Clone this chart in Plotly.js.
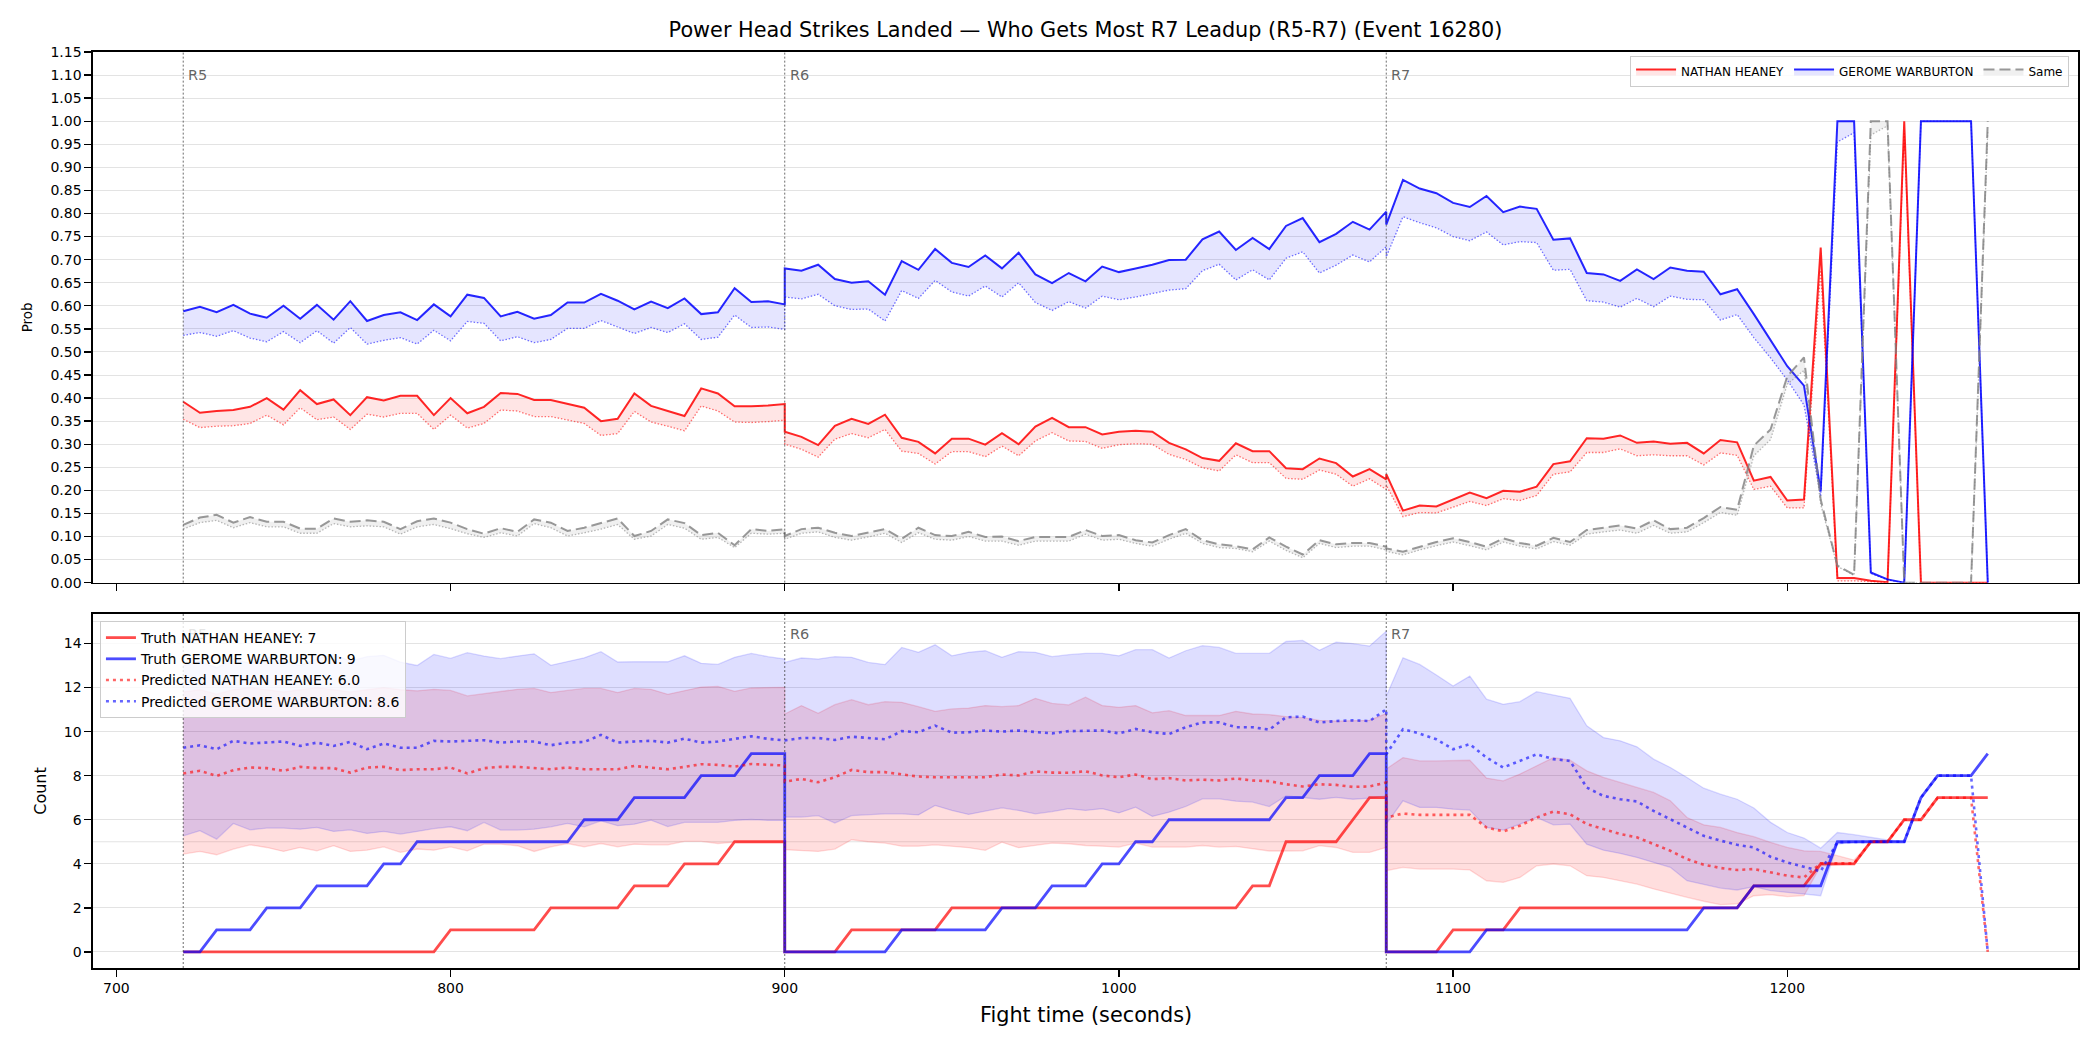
<!DOCTYPE html>
<html>
<head>
<meta charset="utf-8">
<script src="https://cdn.plot.ly/plotly-3.0.1.min.js"></script>
<style>html,body{margin:0;padding:0;background:#fff;}#chart{width:2100px;height:1050px;}</style>
</head>
<body>
<div id="chart"></div>
<script>
// ---------- time axis (seconds), one array per round ----------
const t5 = [720,725,730,735,740,745,750,755,760,765,770,775,780,785,790,795,800,805,810,815,820,825,830,835,840,845,850,855,860,865,870,875,880,885,890,895,900];
const t6 = [900,905,910,915,920,925,930,935,940,945,950,955,960,965,970,975,980,985,990,995,1000,1005,1010,1015,1020,1025,1030,1035,1040,1045,1050,1055,1060,1065,1070,1075,1080];
const t7 = [1080,1085,1090,1095,1100,1105,1110,1115,1120,1125,1130,1135,1140,1145,1150,1155,1160,1165,1170,1175,1180,1185,1190,1195,1200,1205,1210,1215,1220,1225,1230,1235,1240,1245,1250,1255,1260];

const fighterA = "NATHAN HEANEY";
const fighterB = "GEROME WARBURTON";
const roundNames = ["R5", "R6", "R7"];
const roundStarts = [720, 900, 1080];
const xTicks = [700, 800, 900, 1000, 1100, 1200];
const probTicks = [0,0.05,0.1,0.15,0.2,0.25,0.3,0.35,0.4,0.45,0.5,0.55,0.6,0.65,0.7,0.75,0.8,0.85,0.9,0.95,1,1.05,1.1,1.15];
const countTicks = [0,2,4,6,8,10,12,14];
const truthFinalA = 7, truthFinalB = 9, predFinalA = 6.0, predFinalB = 8.6;

// ---------- top panel: probabilities ----------
const heaneyProbR5 = [0.392,0.368,0.372,0.374,0.381,0.400,0.375,0.417,0.387,0.397,0.363,0.402,0.395,0.405,0.405,0.363,0.400,0.367,0.381,0.411,0.409,0.396,0.396,0.387,0.379,0.350,0.355,0.410,0.383,0.372,0.361,0.421,0.410,0.382,0.382,0.384,0.387];
const heaneyProbR6 = [0.327,0.316,0.298,0.340,0.355,0.344,0.364,0.314,0.305,0.280,0.312,0.312,0.299,0.324,0.300,0.338,0.357,0.337,0.337,0.321,0.327,0.329,0.327,0.303,0.289,0.270,0.264,0.302,0.285,0.285,0.248,0.246,0.269,0.259,0.230,0.246,0.224];
const heaneyProbR7 = [0.235,0.156,0.167,0.165,0.180,0.195,0.183,0.199,0.197,0.208,0.257,0.263,0.313,0.312,0.319,0.303,0.306,0.301,0.303,0.280,0.309,0.304,0.221,0.229,0.178,0.180,0.726,0.010,0.010,0.004,0.001,1.0,0,0,0,0,0];

const heaneyLowR5 = [0.354,0.336,0.339,0.340,0.345,0.363,0.342,0.379,0.353,0.359,0.332,0.365,0.359,0.367,0.367,0.332,0.363,0.335,0.345,0.374,0.372,0.360,0.360,0.353,0.345,0.319,0.323,0.371,0.348,0.339,0.329,0.383,0.372,0.348,0.347,0.349,0.352];
const heaneyLowR6 = [0.300,0.289,0.272,0.311,0.323,0.314,0.332,0.285,0.280,0.257,0.284,0.284,0.273,0.296,0.275,0.307,0.325,0.307,0.306,0.291,0.299,0.301,0.300,0.278,0.267,0.249,0.242,0.277,0.260,0.260,0.226,0.224,0.244,0.235,0.209,0.225,0.202];
const heaneyLowR7 = [0.211,0.143,0.152,0.151,0.164,0.176,0.167,0.182,0.178,0.189,0.235,0.240,0.282,0.282,0.290,0.275,0.277,0.275,0.275,0.255,0.281,0.276,0.202,0.209,0.162,0.162,0.677,0.004,0.004,0.002,0.000,0.980,0,0,0,0,0];

const warbProbR5 = [0.588,0.598,0.586,0.602,0.583,0.574,0.600,0.572,0.602,0.570,0.610,0.567,0.580,0.586,0.569,0.603,0.577,0.624,0.617,0.577,0.587,0.572,0.580,0.607,0.607,0.626,0.611,0.592,0.609,0.595,0.616,0.582,0.586,0.638,0.608,0.610,0.603];
const warbProbR6 = [0.681,0.676,0.689,0.658,0.650,0.653,0.624,0.697,0.678,0.723,0.693,0.684,0.709,0.681,0.715,0.668,0.649,0.671,0.653,0.685,0.673,0.681,0.689,0.699,0.700,0.744,0.761,0.721,0.747,0.723,0.773,0.790,0.738,0.756,0.782,0.765,0.804];
const warbProbR7 = [0.776,0.873,0.854,0.844,0.823,0.814,0.838,0.803,0.815,0.810,0.743,0.746,0.671,0.668,0.654,0.679,0.658,0.683,0.676,0.674,0.625,0.636,0.582,0.525,0.469,0.427,0.198,1.0,1.0,0.022,0.007,0.0,1.0,1.0,1.0,1.0,0.0];

const warbLowR5 = [0.536,0.542,0.534,0.546,0.530,0.522,0.544,0.520,0.546,0.519,0.553,0.517,0.525,0.531,0.517,0.547,0.524,0.566,0.562,0.524,0.533,0.520,0.527,0.551,0.551,0.568,0.554,0.540,0.553,0.542,0.561,0.527,0.532,0.580,0.553,0.554,0.549];
const warbLowR6 = [0.619,0.615,0.625,0.600,0.592,0.593,0.567,0.633,0.616,0.655,0.630,0.621,0.643,0.619,0.650,0.607,0.590,0.609,0.595,0.621,0.613,0.619,0.627,0.634,0.637,0.676,0.690,0.656,0.678,0.656,0.703,0.717,0.671,0.688,0.710,0.695,0.728];
const warbLowR7 = [0.706,0.793,0.780,0.769,0.750,0.741,0.760,0.732,0.739,0.737,0.677,0.679,0.611,0.608,0.597,0.616,0.598,0.621,0.614,0.613,0.569,0.581,0.531,0.487,0.439,0.385,0.187,0.955,0.975,0.020,0.006,0.0,1.0,1.0,1.0,1.0,0.0];

const sameProbR5 = [0.125,0.141,0.147,0.130,0.142,0.132,0.132,0.117,0.117,0.139,0.132,0.135,0.132,0.116,0.133,0.139,0.130,0.116,0.106,0.118,0.110,0.137,0.130,0.112,0.119,0.129,0.139,0.101,0.112,0.137,0.129,0.103,0.108,0.081,0.116,0.112,0.116];
const sameProbR6 = [0.101,0.116,0.119,0.108,0.101,0.108,0.116,0.095,0.119,0.103,0.101,0.110,0.099,0.100,0.090,0.099,0.099,0.099,0.114,0.101,0.103,0.092,0.087,0.103,0.116,0.092,0.083,0.079,0.072,0.098,0.078,0.061,0.092,0.083,0.086,0.086,0.078];
const sameProbR7 = [0.074,0.067,0.078,0.088,0.096,0.088,0.078,0.096,0.086,0.080,0.097,0.088,0.114,0.119,0.124,0.117,0.135,0.116,0.119,0.140,0.164,0.158,0.297,0.332,0.447,0.488,0.180,0.037,0.017,1.0,1.0,0.0,0.0,0.0,0.0,0.0,1.0];

const sameLowR5 = [0.116,0.130,0.135,0.119,0.130,0.121,0.121,0.107,0.107,0.128,0.121,0.123,0.121,0.105,0.121,0.126,0.117,0.106,0.098,0.108,0.101,0.128,0.119,0.101,0.108,0.116,0.126,0.094,0.101,0.126,0.118,0.094,0.098,0.076,0.107,0.105,0.107];
const sameLowR6 = [0.094,0.107,0.110,0.098,0.092,0.099,0.107,0.087,0.108,0.094,0.092,0.100,0.090,0.090,0.081,0.090,0.090,0.090,0.105,0.092,0.094,0.085,0.079,0.094,0.107,0.085,0.076,0.074,0.067,0.090,0.070,0.054,0.085,0.076,0.079,0.079,0.071];
const sameLowR7 = [0.068,0.060,0.071,0.080,0.088,0.080,0.071,0.088,0.079,0.073,0.089,0.081,0.105,0.110,0.114,0.107,0.124,0.107,0.110,0.130,0.152,0.146,0.275,0.310,0.430,0.460,0.170,0.035,0.016,0.970,0.990,0.0,0.0,0.0,0.0,0.0,0.980];

// ---------- bottom panel: counts ----------
const truthHeaneyR5 = [0,0,0,0,0,0,0,0,0,0,0,0,0,0,0,0,1,1,1,1,1,1,2,2,2,2,2,3,3,3,4,4,4,5,5,5,5];
const truthHeaneyR6 = [0,0,0,0,1,1,1,1,1,1,2,2,2,2,2,2,2,2,2,2,2,2,2,2,2,2,2,2,3,3,5,5,5,5,6,7,7];
const truthHeaneyR7 = [0,0,0,0,1,1,1,1,2,2,2,2,2,2,2,2,2,2,2,2,2,2,3,3,3,3,4,4,4,5,5,6,6,7,7,7,7];
const truthWarbR5 = [0,0,1,1,1,2,2,2,3,3,3,3,4,4,5,5,5,5,5,5,5,5,5,5,6,6,6,7,7,7,7,8,8,8,9,9,9];
const truthWarbR6 = [0,0,0,0,0,0,0,1,1,1,1,1,1,2,2,2,3,3,3,4,4,5,5,6,6,6,6,6,6,6,7,7,8,8,8,9,9];
const truthWarbR7 = [0,0,0,0,0,0,1,1,1,1,1,1,1,1,1,1,1,1,1,2,2,2,3,3,3,3,3,5,5,5,5,5,7,8,8,8,9];

const predHeaneyR5 = [8.10,8.22,7.99,8.25,8.37,8.34,8.22,8.40,8.34,8.34,8.14,8.37,8.40,8.25,8.29,8.29,8.37,8.10,8.34,8.40,8.40,8.34,8.29,8.37,8.29,8.29,8.29,8.44,8.37,8.29,8.40,8.52,8.49,8.41,8.53,8.49,8.46];
const predHeaneyR6 = [7.73,7.85,7.70,7.93,8.26,8.16,8.16,8.05,7.96,7.93,7.93,7.93,7.93,8.05,8.01,8.19,8.14,8.13,8.20,8.01,7.93,8.05,7.84,7.89,7.78,7.82,7.78,7.87,7.78,7.75,7.61,7.51,7.61,7.58,7.49,7.51,7.69];
const predHeaneyR7 = [6.10,6.28,6.22,6.22,6.22,6.22,5.65,5.47,5.73,6.10,6.37,6.25,5.80,5.57,5.35,5.20,4.89,4.59,4.21,3.96,3.81,3.72,3.76,3.61,3.46,3.38,4.02,4.02,4.02,5.0,5.0,6.0,6.0,7.0,7.0,7.0,0];
const predWarbR5 = [9.27,9.38,9.20,9.58,9.46,9.50,9.55,9.35,9.50,9.35,9.53,9.20,9.46,9.27,9.27,9.58,9.55,9.58,9.61,9.50,9.55,9.55,9.38,9.50,9.53,9.85,9.50,9.55,9.58,9.50,9.68,9.50,9.55,9.67,9.79,9.67,9.62];
const predWarbR6 = [9.60,9.71,9.71,9.62,9.77,9.71,9.65,10.02,9.97,10.27,9.95,9.97,10.05,10.00,10.05,9.98,9.92,10.02,10.02,10.05,9.92,10.12,9.97,9.89,10.20,10.42,10.42,10.20,10.20,10.09,10.65,10.68,10.41,10.48,10.51,10.48,11.01];
const predWarbR7 = [8.97,10.11,9.91,9.65,9.20,9.43,8.82,8.37,8.67,8.97,8.75,8.67,7.46,7.08,6.93,6.83,6.40,6.03,5.65,5.27,5.05,4.86,4.74,4.32,4.06,3.87,3.66,4.98,5.0,5.0,5.0,5.0,7.0,8.0,8.0,8.0,0];

const heanUpperR5 = [11.80,11.90,11.70,11.90,12.00,11.90,11.80,11.90,12.00,11.90,11.80,11.90,12.00,11.90,11.85,11.92,11.87,11.62,11.72,11.81,11.92,11.96,11.77,11.87,11.96,11.96,11.77,11.96,11.92,11.69,11.84,12.02,12.05,11.83,11.98,12.01,12.01];
const heanUpperR6 = [10.80,11.18,10.83,11.22,11.45,11.22,11.36,11.33,11.13,10.92,11.03,11.07,11.18,11.13,11.18,11.51,11.28,11.21,11.56,11.18,11.10,11.18,10.85,10.95,10.73,10.73,10.73,10.92,10.80,10.77,10.68,10.63,10.51,10.48,10.48,10.51,10.82];
const heanUpperR7 = [8.30,8.82,8.67,8.67,8.67,8.70,7.89,7.76,8.07,8.44,8.82,8.70,8.22,7.92,7.69,7.46,7.24,6.86,6.10,5.77,5.65,5.42,5.23,4.97,4.74,4.59,4.56,4.37,4.17,5.0,5.0,6.0];
const heanLowerR5 = [4.44,4.56,4.41,4.67,4.86,4.74,4.56,4.74,4.59,4.82,4.56,4.62,4.77,4.52,4.67,4.62,4.77,4.59,4.89,4.89,4.82,4.56,4.77,4.92,4.77,4.92,4.77,4.89,4.86,4.86,5.02,5.02,4.92,4.98,4.98,4.98,4.98];
const heanLowerR6 = [4.64,4.61,4.56,4.67,5.09,5.00,4.94,4.80,4.80,4.86,4.79,4.73,4.61,4.98,4.73,4.83,4.94,4.91,4.83,4.80,4.76,4.94,4.76,4.76,4.76,4.83,4.76,4.79,4.68,4.58,4.58,4.59,4.82,4.74,4.52,4.52,4.74];
const heanLowerR7 = [3.69,3.84,3.76,3.76,3.76,3.72,3.23,3.16,3.38,3.91,3.99,3.91,3.46,3.38,3.23,3.08,2.86,2.66,2.48,2.30,2.15,2.18,2.55,2.60,2.51,2.55,3.90,3.95,4.00,5.0,5.0,6.0];

const warbUpperR5 = [13.00,13.20,12.90,13.30,13.10,13.40,13.20,13.00,13.30,13.50,13.20,13.40,13.46,13.15,13.00,13.50,13.32,13.58,13.43,13.31,13.43,13.53,13.01,13.17,13.35,13.63,13.16,13.17,13.17,13.17,13.44,13.10,13.05,13.37,13.55,13.40,13.29];
const warbUpperR6 = [13.14,13.34,13.29,13.40,13.37,13.14,13.04,13.82,13.60,13.94,13.44,13.60,13.67,13.37,13.63,13.60,13.40,13.49,13.55,13.55,13.44,13.72,13.72,13.34,13.67,13.90,13.82,13.55,13.55,13.55,14.09,14.14,13.69,14.06,13.99,13.88,14.56];
const warbUpperR7 = [11.60,13.35,13.05,12.57,12.07,12.52,11.47,11.24,11.36,11.81,11.65,11.51,10.26,9.73,9.58,9.31,8.75,8.37,7.92,7.43,7.16,6.93,6.53,5.88,5.42,5.17,4.71,5.42,5.32,5.20,5.08,5.0];
const warbLowerR5 = [5.27,5.50,5.12,5.83,5.54,5.62,5.62,5.57,5.65,5.47,5.54,5.38,5.47,5.35,5.47,5.60,5.68,5.50,5.88,5.53,5.53,5.57,5.68,5.83,5.68,5.95,5.73,5.80,5.98,5.69,5.88,5.88,5.88,5.97,6.01,5.97,5.97];
const warbLowerR6 = [6.12,6.12,6.19,5.85,6.19,6.24,6.27,6.27,6.22,6.65,6.42,6.24,6.39,6.54,6.42,6.27,6.37,6.50,6.42,6.50,6.31,6.57,6.15,6.34,6.60,6.95,6.95,6.84,6.80,6.60,7.08,7.01,6.93,7.01,6.93,6.98,7.08];
const warbLowerR7 = [5.80,6.86,6.56,6.56,6.48,6.44,5.65,5.53,5.80,6.10,5.77,5.80,4.89,4.62,4.47,4.29,4.06,3.84,3.23,3.05,2.90,2.81,2.96,2.78,2.70,2.63,2.55,4.89,4.97,5.0,5.0,5.0];

// ---------- assembly ----------
const join = (a, b, c) => a.concat(b, c);
const tAll = join(t5, t6, t7);
const tBand = join(t5, t6, t7.slice(0, heanUpperR7.length));

const FONT = "DejaVu Sans, Verdana, sans-serif";
const RED = "255,0,0", BLUE = "0,0,255", GREY = "128,128,128";
const rgba = (c, a) => "rgba(" + c + "," + a + ")";

function topPair(low, high, col, name, dashed) {
  return [
    {x: tAll, y: low, xaxis: "x", yaxis: "y", type: "scatter", mode: "lines",
     line: {color: rgba(col, 0.55), width: 1.3, dash: "1.5px,1.8px"}, showlegend: false, hoverinfo: "skip"},
    {x: tAll, y: high, xaxis: "x", yaxis: "y", type: "scatter", mode: "lines", name: name,
     fill: "tonexty", fillcolor: rgba(col, dashed ? 0.12 : 0.1),
     line: {color: rgba(col, dashed ? 0.8 : 0.85), width: 2, dash: dashed ? "11px,5px" : "solid"},
     legend: "legend", hoverinfo: "skip"}
  ];
}
function band(upper, lower, col) {
  return [
    {x: tBand, y: upper, xaxis: "x2", yaxis: "y2", type: "scatter", mode: "lines",
     line: {color: rgba(col, 0.14), width: 1.3}, showlegend: false, hoverinfo: "skip"},
    {x: tBand, y: lower, xaxis: "x2", yaxis: "y2", type: "scatter", mode: "lines",
     fill: "tonexty", fillcolor: rgba(col, 0.13),
     line: {color: rgba(col, 0.14), width: 1.3}, showlegend: false, hoverinfo: "skip"}
  ];
}

const traces = [].concat(
  topPair(join(heaneyLowR5, heaneyLowR6, heaneyLowR7), join(heaneyProbR5, heaneyProbR6, heaneyProbR7), RED, fighterA, false),
  topPair(join(warbLowR5, warbLowR6, warbLowR7), join(warbProbR5, warbProbR6, warbProbR7), BLUE, fighterB, false),
  topPair(join(sameLowR5, sameLowR6, sameLowR7), join(sameProbR5, sameProbR6, sameProbR7), GREY, "Same", true),
  band(join(heanUpperR5, heanUpperR6, heanUpperR7), join(heanLowerR5, heanLowerR6, heanLowerR7), RED),
  band(join(warbUpperR5, warbUpperR6, warbUpperR7), join(warbLowerR5, warbLowerR6, warbLowerR7), BLUE),
  [
    {x: tAll, y: join(truthHeaneyR5, truthHeaneyR6, truthHeaneyR7), xaxis: "x2", yaxis: "y2", type: "scatter", mode: "lines",
     name: "Truth " + fighterA + ": " + truthFinalA, line: {color: rgba(RED, 0.7), width: 2.8}, legend: "legend2", hoverinfo: "skip"},
    {x: tAll, y: join(truthWarbR5, truthWarbR6, truthWarbR7), xaxis: "x2", yaxis: "y2", type: "scatter", mode: "lines",
     name: "Truth " + fighterB + ": " + truthFinalB, line: {color: rgba(BLUE, 0.7), width: 2.8}, legend: "legend2", hoverinfo: "skip"},
    {x: tAll, y: join(predHeaneyR5, predHeaneyR6, predHeaneyR7), xaxis: "x2", yaxis: "y2", type: "scatter", mode: "lines",
     name: "Predicted " + fighterA + ": " + predFinalA.toFixed(1), line: {color: rgba(RED, 0.6), width: 2.6, dash: "3px,4px"}, legend: "legend2", hoverinfo: "skip"},
    {x: tAll, y: join(predWarbR5, predWarbR6, predWarbR7), xaxis: "x2", yaxis: "y2", type: "scatter", mode: "lines",
     name: "Predicted " + fighterB + ": " + predFinalB.toFixed(1), line: {color: rgba(BLUE, 0.6), width: 2.6, dash: "3px,4px"}, legend: "legend2", hoverinfo: "skip"}
  ]
);

const GRID = "#e3e3e3";
const axisCommon = {
  showline: true, linecolor: "#000", linewidth: 1.6, mirror: true,
  ticks: "outside", ticklen: 7, tickwidth: 1.4, tickcolor: "#000",
  zeroline: false, tickfont: {family: FONT, size: 14, color: "#000"}
};
const XRANGE = [693, 1287];

const shapes = [];
const annotations = [];
roundStarts.forEach((rs, i) => {
  ["y", "y2"].forEach((ya, j) => {
    const xa = j === 0 ? "x" : "x2";
    shapes.push({type: "line", xref: xa, yref: ya + " domain", x0: rs, x1: rs, y0: 0, y1: 1,
      line: {color: "rgba(60,60,60,0.75)", width: 1, dash: "2px,2px"}, layer: "above"});
    // in the lower panel the first label sits behind the semi-transparent legend, so it is drawn faint
    const hidden = (j === 1 && i === 0);
    annotations.push({xref: xa, yref: ya + " domain", x: rs, y: 1, xanchor: "left", yanchor: "middle",
      xshift: 3, yshift: j === 0 ? -23 : -20, text: roundNames[i], showarrow: false,
      font: {family: FONT, size: 14.5, color: hidden ? "rgba(90,90,90,0.18)" : "rgba(90,90,90,0.95)"}});
  });
});
[5, 15].forEach(v => shapes.push({type: "line", xref: "x2 domain", yref: "y2", x0: 0, x1: 1, y0: v, y1: v,
  line: {color: GRID, width: 1}, layer: "below"}));

annotations.push({xref: "paper", yref: "paper", x: -0.0332, y: 0.7104, text: "Prob", textangle: -90,
  showarrow: false, xanchor: "center", yanchor: "middle", font: {family: FONT, size: 13.5, color: "#000"}});
annotations.push({xref: "paper", yref: "paper", x: -0.0262, y: 0.1935, text: "Count", textangle: -90,
  showarrow: false, xanchor: "center", yanchor: "middle", font: {family: FONT, size: 16, color: "#000"}});
annotations.push({xref: "paper", yref: "paper", x: 0.5, y: -0.0513, text: "Fight time (seconds)",
  showarrow: false, xanchor: "center", yanchor: "middle", font: {family: FONT, size: 20.8, color: "#000"}});

const layout = {
  width: 2100, height: 1050,
  margin: {l: 93, r: 22, t: 52, b: 82},
  paper_bgcolor: "#fff", plot_bgcolor: "#fff",
  font: {family: FONT, size: 14, color: "#000"},
  title: {text: "Power Head Strikes Landed — Who Gets Most R7 Leadup (R5-R7) (Event 16280)",
    font: {family: FONT, size: 20.8, color: "#000"}, xref: "paper", x: 0.5, xanchor: "center",
    yref: "container", y: 1 - 29.5 / 1050, yanchor: "middle"},
  xaxis: Object.assign({}, axisCommon, {domain: [0, 1], anchor: "y", range: XRANGE, tickvals: xTicks,
    showticklabels: false, showgrid: false}),
  yaxis: Object.assign({}, axisCommon, {domain: [0.4207, 1], anchor: "x", range: [0, 1.15], tickvals: probTicks,
    tickformat: ".2f", showgrid: true, gridcolor: GRID, gridwidth: 1}),
  xaxis2: Object.assign({}, axisCommon, {domain: [0, 1], anchor: "y2", range: XRANGE, tickvals: xTicks,
    showgrid: false}),
  yaxis2: Object.assign({}, axisCommon, {domain: [0, 0.387], anchor: "x2", range: [-0.73, 15.36], tickvals: countTicks,
    showgrid: true, gridcolor: GRID, gridwidth: 1}),
  legend: {x: 0.9955, xanchor: "right", y: 0.9956, yanchor: "top", orientation: "h", traceorder: "normal",
    font: {family: FONT, size: 12, color: "#000"}, bgcolor: "rgba(255,255,255,0.85)",
    bordercolor: "#cccccc", borderwidth: 1, itemwidth: 40},
  legend2: {x: 0.0035, xanchor: "left", y: 0.3788, yanchor: "top", traceorder: "normal",
    font: {family: FONT, size: 14, color: "#000"}, bgcolor: "rgba(255,255,255,0.8)",
    bordercolor: "#cccccc", borderwidth: 1, tracegroupgap: 0, itemwidth: 30},
  shapes: shapes,
  annotations: annotations,
  showlegend: true,
  hovermode: false
};

Plotly.newPlot("chart", traces, layout, {staticPlot: true, displayModeBar: false});
</script>
</body>
</html>
